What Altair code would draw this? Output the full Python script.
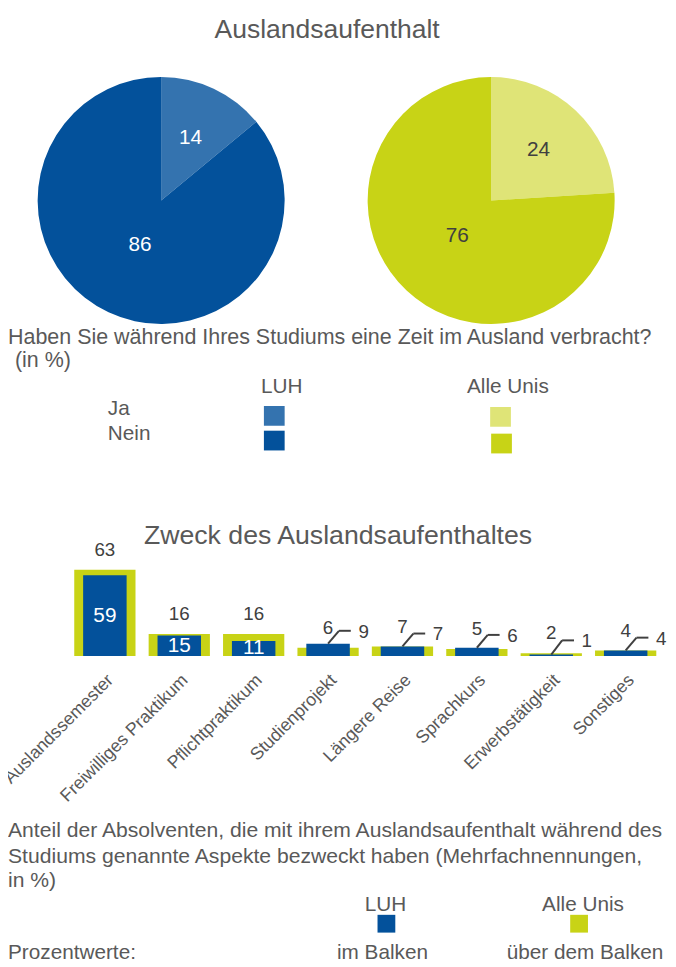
import altair as alt
import pandas as pd

FONT = "Liberation Sans"
GRAY = "#595959"
DARK = "#404040"

# ---------------- data ----------------
title_pies = "Auslandsaufenthalt"
pie_groups = ["LUH", "LUH", "Alle Unis", "Alle Unis"]
pie_answers = ["Ja", "Nein", "Ja", "Nein"]
pie_values = [14, 86, 24, 76]
pie_colors = ["#3473AF", "#03519B", "#DFE477", "#C8D316"]
pie_caption = ["Haben Sie während Ihres Studiums eine Zeit im Ausland verbracht?", "(in %)"]

title_bars = "Zweck des Auslandsaufenthaltes"
purposes = ["Auslandssemester", "Freiwilliges Praktikum", "Pflichtpraktikum",
            "Studienprojekt", "Längere Reise", "Sprachkurs", "Erwerbstätigkeit", "Sonstiges"]
luh_values = [59, 15, 11, 9, 7, 6, 1, 4]
alle_values = [63, 16, 16, 6, 7, 5, 2, 4]
bar_colors = {"LUH": "#03519B", "Alle Unis": "#C8D316"}
bar_caption = ["Anteil der Absolventen, die mit ihrem Auslandsaufenthalt während des",
               "Studiums genannte Aspekte bezweckt haben (Mehrfachnennungen,",
               "in %)"]
legend_rows = ["Ja", "Nein"]
legend_cols = ["LUH", "Alle Unis"]
value_hint = ["Prozentwerte:", "im Balken", "über dem Balken"]

one = pd.DataFrame({"t": [""]})


def label(txt, x, y, size=21, align="left", color=GRAY):
    return alt.Chart(pd.DataFrame({"t": [txt]})).mark_text(
        font=FONT, fontSize=size, align=align, baseline="middle", color=color
    ).encode(x=alt.value(x), y=alt.value(y), text="t:N")


def square(x, y, w, h, color):
    return alt.Chart(one).mark_rect(color=color).encode(
        x=alt.value(x), x2=alt.value(x + w), y=alt.value(y), y2=alt.value(y + h))


layers = []

# ---------------- pies ----------------
pie_df = pd.DataFrame({"group": pie_groups, "answer": pie_answers, "value": pie_values})
pie_df["key"] = pie_df["group"] + " " + pie_df["answer"]
color_scale = alt.Scale(domain=list(pie_df["key"]), range=pie_colors)
PIE_Y = 189


def pie(group, cx, txtcolor):
    base = alt.Chart(pie_df).transform_filter(alt.datum.group == group)
    theta = alt.Theta("value:Q", stack=True)
    arcs = base.mark_arc(x=cx, y=PIE_Y, outerRadius=125).encode(
        theta=theta, order=alt.Order("answer:N"),
        color=alt.Color("key:N", scale=color_scale, legend=None))
    out = [arcs]
    for ans, r in (("Ja", 70), ("Nein", 50)):
        out.append(base.mark_text(x=cx, y=PIE_Y, radius=r, font=FONT, fontSize=21,
                                  color=txtcolor).encode(
            theta=theta, order=alt.Order("answer:N"), detail="answer:N",
            text=alt.condition(alt.datum.answer == ans, "value:Q", alt.value(""))))
    return out


layers.append(label(title_pies, 323, 17, size=26.8, align="center"))
layers += pie("LUH", 155, "white")
layers += pie("Alle Unis", 489, DARK)

layers.append(label(pie_caption[0], 0, 327, size=21.7))
layers.append(label(pie_caption[1], 7, 351, size=21.7))
layers.append(label(legend_cols[0], 277, 378, align="center"))
layers.append(label(legend_cols[1], 506, 378, align="center"))
layers.append(label(legend_rows[0], 101, 400))
layers.append(label(legend_rows[1], 101, 425))
layers.append(square(259, 397, 21, 20, pie_colors[0]))
layers.append(square(259, 422, 21, 20, pie_colors[1]))
layers.append(square(488, 398, 21, 20, pie_colors[2]))
layers.append(square(489, 425, 21, 20, pie_colors[3]))

# ---------------- bars ----------------
bar_df = pd.DataFrame({"purpose": purposes, "luh": luh_values, "alle": alle_values})
bar_df["idx"] = range(len(purposes))
X0, X1 = 60.4, 662.8
xband = alt.Scale(domain=purposes, range=[X0, X1], paddingInner=0, paddingOuter=0)
xlin = alt.Scale(domain=[-0.5, len(purposes) - 0.5], range=[X0, X1])
ys = alt.Scale(domain=[0, 100], range=[650, 511.5])
XB = alt.X("purpose:N", scale=xband, axis=None, sort=purposes)
XL = alt.X("idx:Q", scale=xlin, axis=None)

base = alt.Chart(bar_df)
layers.append(label(title_bars, 334, 529, size=27, align="center"))
layers.append(base.mark_bar(size=62, color=bar_colors["Alle Unis"]).encode(
    x=XB, y=alt.Y("alle:Q", scale=ys, axis=None)))
layers.append(base.mark_bar(size=44, color=bar_colors["LUH"]).encode(
    x=XB, y=alt.Y("luh:Q", scale=ys, axis=None)))
layers.append(base.transform_filter("datum.luh >= 10").transform_calculate(mid="datum.luh / 2")
              .mark_text(font=FONT, fontSize=21, color="white", baseline="middle")
              .encode(x=XL, y=alt.Y("mid:Q", scale=ys, axis=None), text="luh:Q"))
layers.append(base.mark_text(font=FONT, fontSize=19, color=DARK, baseline="middle", dy=-20)
              .encode(x=XL, y=alt.Y("alle:Q", scale=ys, axis=None), text="alle:Q"))
small = base.transform_filter("datum.luh < 10").transform_calculate(top="max(datum.luh, datum.alle)")
layers.append(small.mark_rule(color=DARK, strokeWidth=2, x2Offset=11, y2Offset=-13).encode(
    x=XL, x2=alt.X2("idx:Q"), y=alt.Y("luh:Q", scale=ys, axis=None), y2=alt.Y2("top:Q")))
layers.append(small.mark_rule(color=DARK, strokeWidth=2, xOffset=11, x2Offset=23, yOffset=-13).encode(
    x=XL, x2=alt.X2("idx:Q"), y=alt.Y("top:Q", scale=ys, axis=None)))
layers.append(small.mark_text(font=FONT, fontSize=19, color=DARK, baseline="middle", dx=36, dy=-12)
              .encode(x=XL, y=alt.Y("top:Q", scale=ys, axis=None), text="luh:Q"))
layers.append(base.transform_calculate(zero="0").mark_text(
    font=FONT, fontSize=18, color=GRAY, angle=315, align="right", baseline="middle",
    xOffset=6, yOffset=22).encode(x=XL, y=alt.Y("zero:Q", scale=ys, axis=None), text="purpose:N"))

layers.append(label(bar_caption[0], 0, 827.5, size=21.4))
layers.append(label(bar_caption[1], 0, 853.5, size=21.4))
layers.append(label(bar_caption[2], 0, 878, size=21.4))
layers.append(label(legend_cols[0], 382, 902, align="center"))
layers.append(label(legend_cols[1], 582, 902, align="center"))
layers.append(square(374, 912, 18, 18, bar_colors["LUH"]))
layers.append(square(569, 912, 18, 18, bar_colors["Alle Unis"]))
layers.append(label(value_hint[0], 0, 951))
layers.append(label(value_hint[1], 379, 951, align="center"))
layers.append(label(value_hint[2], 584, 951, align="center"))

chart = alt.layer(*layers).resolve_scale(
    x="independent", y="independent", theta="independent", color="independent"
).properties(
    width=668, height=959, padding=0, autosize=alt.AutoSizeParams(type="none")
).configure(background="white", view=alt.ViewConfig(stroke=None))

chart.save("out.html", embed_options={"renderer": "svg", "actions": False})
